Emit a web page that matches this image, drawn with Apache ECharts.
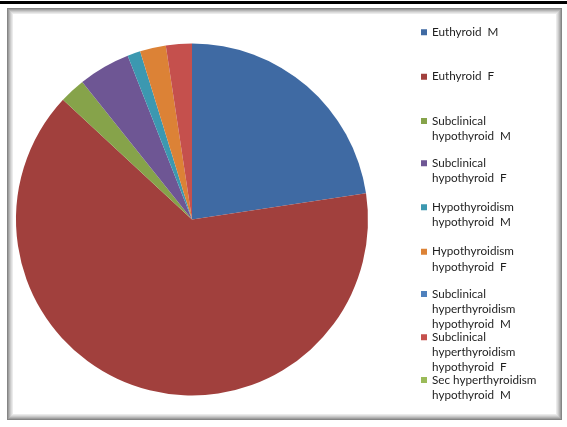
<!DOCTYPE html>
<html>
<head>
<meta charset="utf-8">
<script src="https://cdn.jsdelivr.net/npm/echarts@6/dist/echarts.min.js"></script>
<style>
  html, body { margin: 0; padding: 0; background: #ffffff; }
  #chart { width: 567px; height: 427px; }
</style>
</head>
<body>
<div id="chart"></div>
<script>
// Thyroid status groups by sex (counts); line breaks follow the legend wrapping
const categories = [
  'Euthyroid  M',
  'Euthyroid  F',
  'Subclinical\nhypothyroid  M',
  'Subclinical\nhypothyroid  F',
  'Hypothyroidism\nhypothyroid  M',
  'Hypothyroidism\nhypothyroid  F',
  'Subclinical\nhyperthyroidism\nhypothyroid  M',
  'Subclinical\nhyperthyroidism\nhypothyroid  F',
  'Sec hyperthyroidism\nhypothyroid  M'
];
const counts = [19, 54, 2, 4, 1, 2, 0, 2, 0];
const colors = [
  '#3F6AA3', '#A1403D', '#86A34A', '#6E5694', '#3C98B0',
  '#DC8236', '#4F81BD', '#C5504D', '#9BBB59'
];

// Legend layout: centre line of each entry's first text row
const legendFirstRows = [32.3, 76.7, 121, 163.3, 207.3, 251.7, 294, 337.3, 380];
const lineH = 15.2;
const box = 6;

const chart = echarts.init(document.getElementById('chart'), null, { renderer: 'canvas' });

// Legend text is centred on its icon, so for wrapped entries the icon is made
// taller with the visible square at its top: the square then sits by row one.
const legends = categories.map((name, i) => {
  const lines = name.split('\n').length;
  const h = (lines - 1) * lineH + box;
  return {
    data: [name],
    orient: 'vertical',
    left: 421,
    top: legendFirstRows[i] - lineH / 2,
    padding: 0,
    itemWidth: box,
    itemHeight: h,
    itemGap: 0,
    icon: 'path://M0,0L' + box + ',0L' + box + ',' + box + 'L0,' + box + 'Z M0,' + h + 'L' + box + ',' + h,
    itemStyle: { borderWidth: 0 },
    selectedMode: false,
    textStyle: {
      fontFamily: 'Lato, "Open Sans", sans-serif',
      fontSize: 11.7,
      color: '#1e1e1e',
      lineHeight: lineH
    }
  };
});

// Framed panel with a soft grey inner edge
const frameShades = ['#858585', '#9e9e9e', '#b5b5b5', '#cacaca', '#dcdcdc', '#ebebeb'];
const frame = [];
frame.push({ type: 'rect', z: 0, shape: { x: 0, y: 1, width: 567, height: 3 }, style: { fill: '#000000' } });
frameShades.forEach((c, k) => {
  frame.push({
    type: 'rect', z: 0,
    shape: { x: 7 + k, y: 8 + k, width: 555 - 2 * k, height: 412 - 2 * k },
    style: { fill: c }
  });
});
frame.push({ type: 'rect', z: 0, shape: { x: 13, y: 14, width: 543, height: 400 }, style: { fill: '#ffffff' } });

chart.setOption({
  animation: false,
  backgroundColor: '#ffffff',
  color: colors,
  graphic: { elements: frame },
  legend: legends,
  series: [{
    type: 'pie',
    z: 5,
    center: [192, 219.5],
    radius: [0, 176],
    startAngle: 90,
    clockwise: true,
    avoidLabelOverlap: false,
    label: { show: false },
    labelLine: { show: false },
    itemStyle: { borderWidth: 0 },
    emphasis: { disabled: true },
    data: categories.map((name, i) => ({ name, value: counts[i] }))
  }]
});
</script>
</body>
</html>
